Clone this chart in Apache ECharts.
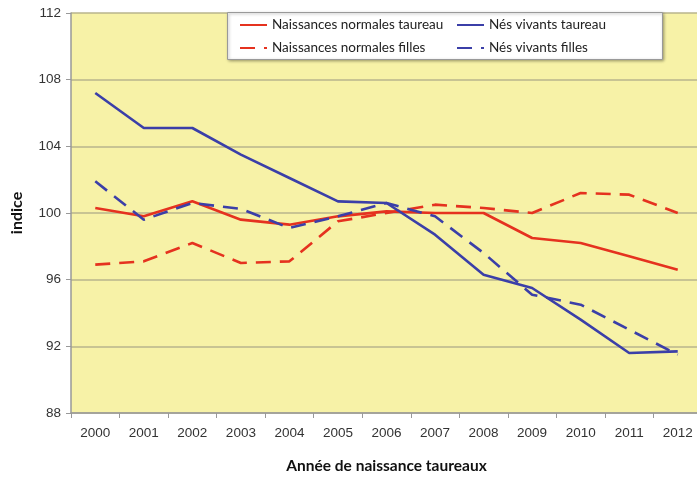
<!DOCTYPE html>
<html><head><meta charset="utf-8">
<script src="https://cdn.jsdelivr.net/npm/echarts@6/dist/echarts.min.js"></script>
<style>html,body{margin:0;padding:0;background:#fff}#c{width:697px;height:478px}</style>
</head><body><div id="c"></div>
<script>
const years = ['2000','2001','2002','2003','2004','2005','2006','2007','2008','2009','2010','2011','2012'];
const nnTaureau = [100.3, 99.8, 100.7, 99.6, 99.3, 99.8, 100.1, 100.0, 100.0, 98.5, 98.2, 97.4, 96.6];
const nnFilles  = [96.9, 97.1, 98.2, 97.0, 97.1, 99.5, 100.0, 100.5, 100.3, 100.0, 101.2, 101.1, 100.0];
const nvTaureau = [107.2, 105.1, 105.1, 103.5, 102.1, 100.7, 100.6, 98.7, 96.3, 95.5, 93.6, 91.6, 91.7];
const nvFilles  = [101.9, 99.6, 100.6, 100.25, 99.1, 99.8, 100.6, 99.8, 97.6, 95.1, 94.5, 93.0, 91.5];
const yTicks = [88, 92, 96, 100, 104, 108, 112];

const RED = '#e5321f', BLUE = '#3b3fa8';
const chart = echarts.init(document.getElementById('c'), null, {renderer: 'canvas'});
function s(name, data, color, dashed) {
  return {
    name, type: 'line', data, symbol: 'none', smooth: false,
    lineStyle: {color, width: 2.6, type: dashed ? [15, 9] : 'solid'},
    itemStyle: {color}
  };
}
const legendText = {fontFamily: 'Lato', fontSize: 13.5, color: '#222', padding: [0, 0, 0, 0]};
const legendCommon = {
  orient: 'vertical', top: 18, itemWidth: 27, itemHeight: 12, itemGap: 9, z: 110, padding: 0,
  itemStyle: {opacity: 0}, textStyle: legendText
};
chart.setOption({
  animation: false,
  grid: {left: 71, top: 13, bottom: 65, right: -5, show: true, backgroundColor: '#f7f2a7', borderWidth: 0,
    outerBoundsMode: 'none', containLabel: false},
  graphic: [{
    type: 'rect', left: 227, top: 12, z: 100,
    shape: {width: 435, height: 47},
    style: {fill: '#fff', stroke: '#999', lineWidth: 1, shadowBlur: 3, shadowColor: 'rgba(0,0,0,0.35)', shadowOffsetX: 1, shadowOffsetY: 1}
  }],
  legend: [
    Object.assign({left: 239, data: ['Naissances normales taureau', 'Naissances normales filles']}, legendCommon),
    Object.assign({left: 456, data: ['Nés vivants taureau', 'Nés vivants filles']}, legendCommon)
  ],
  xAxis: {
    type: 'category', data: years, boundaryGap: true,
    name: 'Année de naissance taureaux', nameLocation: 'middle', nameGap: 45,
    nameTextStyle: {fontFamily: 'Lato', fontWeight: 'bold', fontSize: 15.5, color: '#111'},
    axisLine: {lineStyle: {color: '#999', width: 1.5}},
    axisTick: {show: true, length: 5, lineStyle: {color: '#999'}, alignWithLabel: false},
    axisLabel: {fontFamily: 'Liberation Sans', fontSize: 13.5, color: '#333', margin: 13},
    splitLine: {show: false}
  },
  yAxis: {
    type: 'value', min: 88, max: 112, interval: 4,
    name: 'indice', nameLocation: 'middle', nameGap: 46, nameRotate: 90,
    nameTextStyle: {fontFamily: 'Lato', fontWeight: 'bold', fontSize: 16, color: '#111'},
    axisLine: {show: true, lineStyle: {color: '#999', width: 1.5}},
    axisTick: {show: true, length: 5, lineStyle: {color: '#999'}},
    axisLabel: {fontFamily: 'Liberation Sans', fontSize: 13.5, color: '#333', margin: 10,
      formatter: v => yTicks.includes(v) ? String(v) : ''},
    splitLine: {show: true, lineStyle: {color: '#b8b48c', width: 1.5}}
  },
  series: [
    s('Naissances normales taureau', nnTaureau, RED, false),
    s('Naissances normales filles', nnFilles, RED, true),
    s('Nés vivants taureau', nvTaureau, BLUE, false),
    s('Nés vivants filles', nvFilles, BLUE, true)
  ]
});
</script></body></html>
